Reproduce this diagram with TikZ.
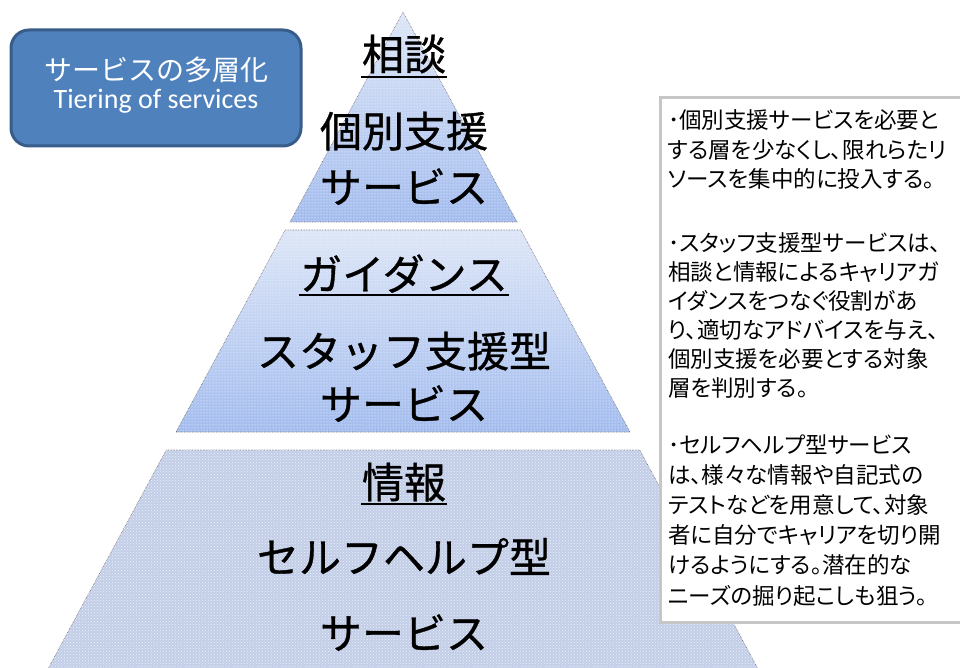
\documentclass[tikz,border=0pt]{standalone}
\usepackage{fontspec}
\newfontfamily\jpfont{Noto Sans CJK JP}
\newfontfamily\jpboldfont[FakeBold=0.8]{Noto Sans CJK JP}
\newfontfamily\jppfont[RawFeature=+palt]{Noto Sans CJK JP}
\newfontfamily\carfont{Carlito}
\usetikzlibrary{patterns}
\definecolor{boxfill}{HTML}{4F81BD}
\definecolor{boxline}{HTML}{385D8A}
\definecolor{tierA}{HTML}{DDE6F7}
\definecolor{tierB}{HTML}{A3BCEE}
\definecolor{tierC}{HTML}{C2CDE7}
\tikzset{
  tier/.style={draw=gray!80!black, densely dotted, line width=0.6pt},
  lbl/.style={inner sep=0pt, anchor=base, font=\jpboldfont\fontsize{42}{48}\selectfont},
  uline/.style={line width=1.8pt, black},
  note/.style={inner sep=0pt, anchor=base west, align=left, font=\jppfont\fontsize{22.5}{29.5}\selectfont}
}
\begin{document}
\begin{tikzpicture}[x=1pt,y=-1pt]
\clip (0,0) rectangle (960,668);
\fill[white] (0,0) rectangle (960,668);
% pyramid tiers
\path[tier, top color=tierA, bottom color=tierB] (403,12) -- (517,222) -- (290,222) -- cycle;
\fill[pattern=dots, pattern color=white!90!tierA] (403,12) -- (517,222) -- (290,222) -- cycle;
\path[tier, top color=tierA, bottom color=tierB] (285.2,230) -- (520.8,230) -- (630,432) -- (176,432) -- cycle;
\fill[pattern=dots, pattern color=white!90!tierA] (285.2,230) -- (520.8,230) -- (630,432) -- (176,432) -- cycle;
\path[tier, fill=tierC] (166.3,450) -- (639.7,450) -- (764,680) -- (42,680) -- cycle;
\fill[pattern=crosshatch dots, pattern color=white!70!tierC] (166.3,450) -- (639.7,450) -- (764,680) -- (42,680) -- cycle;
% pyramid labels
\node[lbl] (t1) at (404,70) {相談};
\draw[uline] ([shift={(-1,7)}]t1.base west) -- ([shift={(1,7)}]t1.base east);
\node[lbl] (t2) at (404,147) {個別支援};
\node[lbl] (t3) at (404,203) {サービス};
\node[lbl] (m1) at (404,290) {ガイダンス};
\draw[uline] ([shift={(-1,5)}]m1.base west) -- ([shift={(1,5)}]m1.base east);
\node[lbl] (m2) at (404,367) {スタッフ支援型};
\node[lbl] (m3) at (404,420) {サービス};
\node[lbl] (b1) at (404,498) {情報};
\draw[uline] ([shift={(-1,6)}]b1.base west) -- ([shift={(1,6)}]b1.base east);
\node[lbl] (b2) at (404,573) {セルフヘルプ型};
\node[lbl] (b3) at (404,649) {サービス};
% title box
\draw[line width=3pt, draw=boxline, fill=boxfill, rounded corners=18pt] (11,30) rectangle (301,146);
\node[inner sep=0pt, anchor=base, text=white, font=\jpfont\fontsize{28}{30}\selectfont] (title) at (156,81) {サービスの多層化};
\node[inner sep=0pt, anchor=base, text=white, font=\carfont\fontsize{28}{30}\selectfont] (subtitle) at (156,109) {Tiering of services};
% note box
\draw[line width=3pt, draw=gray!45, fill=white] (660,98) rectangle (985,622);
\node[note] (n1) at (668,188) {･個別支援サービスを必要と\\する層を少なくし、限れらたリ\\ソースを集中的に投入する。};
\node[note, font=\jppfont\fontsize{22.5}{29}\selectfont] (n2) at (668,396) {･スタッフ支援型サービスは、\\相談と情報によるキャリアガ\\イダンスをつなぐ役割があ\\り、適切なアドバイスを与え、\\個別支援を必要とする対象\\層を判別する。};
\node[note, font=\jppfont\fontsize{22.5}{30.2}\selectfont] (n3) at (668,604) {･セルフヘルプ型サービス\\は、様々な情報や自記式の\\テストなどを用意して、対象\\者に自分でキャリアを切り開\\けるようにする。潜在的な\\ニーズの掘り起こしも狙う。};
\end{tikzpicture}
\end{document}
